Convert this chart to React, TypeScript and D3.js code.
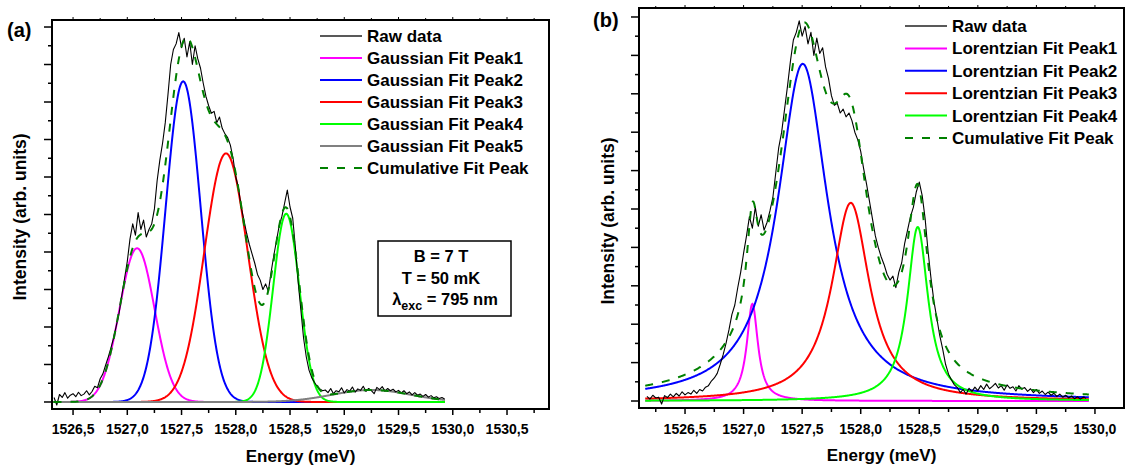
import React from 'react';
import * as d3 from 'd3';

const FONT = "'Liberation Sans', Arial, Helvetica, sans-serif";

// ---------- Panel (a): Gaussian fits ----------
const rawStartA = 1526.325;
const rawStepA = 0.025;
const rawA = [
  0.12, -0.08, 0.2, 0.12, 0.25, 0.1, 0.18, 0.22, 0.14, 0.26, 0.17, 0.21, 0.3, 0.19,
  0.28, 0.42, 0.38, 0.62, 0.75, 0.98, 1.2, 1.45, 1.72, 2.05, 2.38, 2.85, 3.3,
  3.75, 4.35, 4.75, 4.45, 5.05, 4.6, 4.85, 4.4, 4.6, 4.75, 5.15, 5.9, 6.45, 6.9, 7.45, 8.2, 9.0,
  9.4, 9.55, 9.85, 9.45, 9.7, 9.2, 9.6, 9.0, 9.5, 9.15, 8.9, 8.5, 8.15, 7.9, 7.7, 7.75,
  7.45, 7.6, 7.3, 7.15, 7.05, 6.85, 6.5,
  6.0, 5.7, 5.2, 4.85, 4.5, 4.2, 3.95, 3.7, 3.4, 3.25, 3.0, 3.15, 2.95, 3.45, 3.9, 4.3,
  4.7, 4.95, 5.3, 5.65, 5.2, 4.9, 4.1, 3.2, 2.45, 1.7, 1.2, 0.85, 0.65, 0.52, 0.42, 0.35, 0.3,
  0.32, 0.25, 0.36, 0.22, 0.3, 0.27, 0.38, 0.24, 0.33, 0.29, 0.4, 0.26, 0.35, 0.31, 0.42,
  0.28, 0.36, 0.3, 0.22, 0.39, 0.33, 0.41, 0.29, 0.36, 0.3, 0.34, 0.27, 0.31, 0.24, 0.3,
  0.22, 0.27, 0.19, 0.25, 0.18, 0.21, 0.15, 0.2, 0.13, 0.17, 0.11, 0.14, 0.09, 0.12, 0.08,
];
const gaussCenter = [1527.09, 1527.515, 1527.91, 1528.465, 1529.25];
const gaussFwhm = [0.38, 0.38, 0.47, 0.285, 0.85];
const gaussAmp = [4.1, 8.55, 6.63, 5.02, 0.32];
const gaussLabels = [
  'Gaussian Fit Peak1',
  'Gaussian Fit Peak2',
  'Gaussian Fit Peak3',
  'Gaussian Fit Peak4',
  'Gaussian Fit Peak5',
];
const fitRangeA = [1526.32, 1529.93];
const xTickLabelsA = ['1526,5', '1527,0', '1527,5', '1528,0', '1528,5', '1529,0', '1529,5', '1530,0', '1530,5'];

// ---------- Panel (b): Lorentzian fits ----------
const rawStartB = 1526.175;
const rawStepB = 0.025;
const rawB = [
  0.12, 0.05, 0.15, 0.08, 0.1, -0.08, 0.14, 0.09, 0.18, 0.11, 0.2, 0.13, 0.24, 0.16, 0.22,
  0.18, 0.28, 0.2, 0.3, 0.26,
  0.36, 0.4, 0.52, 0.6, 0.72, 0.95, 1.2, 1.5, 1.85, 2.25, 2.5, 2.95, 3.35,
  3.85, 4.3, 4.8, 4.5, 5.05, 4.55, 4.85, 4.45, 4.65, 4.95, 5.3, 5.95, 6.6, 7.0, 7.6, 8.2,
  8.85, 9.4, 9.6, 9.9, 9.5, 9.75, 9.3, 9.6, 9.0, 9.45, 9.05, 9.2, 8.7, 8.4, 7.95, 7.7,
  7.75, 7.5, 7.6, 7.4, 7.5, 7.3, 7.0, 6.8,
  6.5, 6.05, 5.65, 5.2, 4.75, 4.3, 4.0, 3.75, 3.55, 3.3, 3.15, 3.25, 2.95, 3.35, 3.6, 4.1,
  4.45, 4.8, 5.05, 5.45, 5.7, 5.35, 4.75, 3.9, 3.2, 2.6, 2.15, 1.7, 1.35, 0.95, 0.7, 0.55, 0.42,
  0.35, 0.22, 0.3, 0.18, 0.33, 0.25, 0.36, 0.27, 0.4, 0.3, 0.44, 0.32, 0.38, 0.46, 0.34,
  0.4, 0.28, 0.42, 0.33, 0.37, 0.26, 0.4, 0.31, 0.35, 0.25, 0.32, 0.22, 0.3, 0.2, 0.26,
  0.17, 0.23, 0.15, 0.2, 0.12, 0.18, 0.1, 0.15, 0.08, 0.13, 0.06, 0.11, 0.05, 0.1, 0.07,
];
const lorCenter = [1527.075, 1527.505, 1527.915, 1528.487];
const lorFwhm = [0.115, 0.52, 0.39, 0.215];
const lorAmp = [2.53, 8.78, 5.16, 4.53];
const lorLabels = [
  'Lorentzian Fit Peak1',
  'Lorentzian Fit Peak2',
  'Lorentzian Fit Peak3',
  'Lorentzian Fit Peak4',
];
const fitRangeB = [1526.16, 1529.95];
const xTickLabelsB = ['1526,5', '1527,0', '1527,5', '1528,0', '1528,5', '1529,0', '1529,5', '1530,0'];

const peakColors = ['#ff00ff', '#0000ff', '#ff0000', '#00ff00', '#808080'];
const yMajor = [0, 1, 2, 3, 4, 5, 6, 7, 8, 9, 10];
const rawLabel = 'Raw data';
const cumLabel = 'Cumulative Fit Peak';
const infoLines = ['B = 7 T', 'T = 50 mK'];

const gaussian = (c: number, fwhm: number, a: number) => {
  const s = fwhm / 2.35482;
  return (e: number) => a * Math.exp(-((e - c) ** 2) / (2 * s * s));
};
const lorentzian = (c: number, fwhm: number, a: number) => {
  const g = fwhm / 2;
  return (e: number) => a / (1 + ((e - c) / g) ** 2);
};

type PanelProps = {
  id: string;
  left: number; right: number; top: number; bottom: number;
  xDomain: number[]; yDomain: number[];
  tickLabels: string[];
  raw: number[]; rawStart: number; rawStep: number;
  peaks: ((e: number) => number)[];
  labels: string[];
  fitRange: number[];
  legendX: number; legendY: number; legendDy: number;
  tickLabelY: number; xTitleY: number; yTitleX: number; yTitleY: number;
  tag: string; tagX: number; tagY: number;
  children?: React.ReactNode;
};

function Panel(p: PanelProps) {
  const xs = d3.scaleLinear().domain(p.xDomain).range([p.left, p.right]);
  const ys = d3.scaleLinear().domain(p.yDomain).range([p.bottom, p.top]);
  const line = d3.line<[number, number]>().x((d) => xs(d[0])).y((d) => ys(d[1]));
  const grid = d3.range(p.fitRange[0], p.fitRange[1] + 1e-9, 0.004);
  const peakPaths = p.peaks.map((f) => line(grid.map((e) => [e, f(e)] as [number, number])) || '');
  const cumPath = line(grid.map((e) => [e, d3.sum(p.peaks, (f) => f(e))] as [number, number])) || '';
  const rawPath = line(p.raw.map((v, i) => [p.rawStart + i * p.rawStep, v] as [number, number])) || '';
  const majorX = p.tickLabels.map((s) => +s.replace(',', '.'));
  const minorX = d3
    .range(Math.ceil(p.xDomain[0] * 4) / 4, p.xDomain[1], 0.25)
    .filter((v) => !majorX.some((m) => Math.abs(m - v) < 1e-6));
  const minorY = d3.range(0.5, 10, 1);
  const clipId = 'clip-' + p.id;
  const cx = (p.left + p.right) / 2;
  const cy = (p.top + p.bottom) / 2;
  const legendItems = [
    { label: rawLabel, color: '#222', dash: undefined as string | undefined, w: 1.5 },
    ...p.labels.map((l, i) => ({ label: l, color: peakColors[i], dash: undefined as string | undefined, w: 2 })),
    { label: cumLabel, color: '#008000', dash: '8,9', w: 2 },
  ];
  return (
    <g>
      <defs>
        <clipPath id={clipId}>
          <rect x={p.left} y={p.top} width={p.right - p.left} height={p.bottom - p.top} />
        </clipPath>
      </defs>
      <g clipPath={`url(#${clipId})`} fill="none">
        {peakPaths.map((d, i) => (
          <path key={i} d={d} stroke={peakColors[i]} strokeWidth={2} />
        ))}
        <path d={rawPath} stroke="#000" strokeWidth={1.1} strokeLinejoin="round" />
        <path d={cumPath} stroke="#008000" strokeWidth={2} strokeDasharray="8,9" />
      </g>
      {/* frame */}
      <rect x={p.left} y={p.top} width={p.right - p.left} height={p.bottom - p.top} fill="none" stroke="#000" strokeWidth={2} />
      {/* bottom & top ticks */}
      {majorX.map((v) => (
        <g key={'M' + v}>
          <line x1={xs(v)} x2={xs(v)} y1={p.bottom} y2={p.bottom + 6} stroke="#000" strokeWidth={1.5} />
          <line x1={xs(v)} x2={xs(v)} y1={p.top} y2={p.top - 3} stroke="#000" strokeWidth={1} />
        </g>
      ))}
      {minorX.map((v) => (
        <g key={'m' + v}>
          <line x1={xs(v)} x2={xs(v)} y1={p.bottom} y2={p.bottom + 4} stroke="#000" strokeWidth={1.5} />
          <line x1={xs(v)} x2={xs(v)} y1={p.top} y2={p.top - 2} stroke="#000" strokeWidth={1} />
        </g>
      ))}
      {p.tickLabels.map((s, i) => (
        <text key={'t' + s} x={xs(majorX[i])} y={p.tickLabelY} textAnchor="middle" fontFamily={FONT} fontWeight="bold" fontSize={14}>
          {s}
        </text>
      ))}
      {/* left ticks */}
      {yMajor.map((v) => (
        <line key={'y' + v} x1={p.left} x2={p.left - 8} y1={ys(v)} y2={ys(v)} stroke="#000" strokeWidth={1.5} />
      ))}
      {minorY.map((v) => (
        <line key={'ym' + v} x1={p.left} x2={p.left - 4} y1={ys(v)} y2={ys(v)} stroke="#000" strokeWidth={1.5} />
      ))}
      <text x={cx} y={p.xTitleY} textAnchor="middle" fontFamily={FONT} fontWeight="bold" fontSize={17}>
        Energy (meV)
      </text>
      <text
        transform={`translate(${p.yTitleX},${p.yTitleY}) rotate(-90)`}
        textAnchor="middle"
        fontFamily={FONT}
        fontWeight="bold"
        fontSize={17.5}
      >
        Intensity (arb. units)
      </text>
      <text x={p.tagX} y={p.tagY} fontFamily={FONT} fontWeight="bold" fontSize={20}>
        {p.tag}
      </text>
      {/* legend */}
      {legendItems.map((it, i) => {
        const y = p.legendY + i * p.legendDy;
        return (
          <g key={'lg' + i}>
            <line x1={p.legendX} x2={p.legendX + 42} y1={y} y2={y} stroke={it.color} strokeWidth={it.w} strokeDasharray={it.dash} />
            <text x={p.legendX + 47} y={y + 6} fontFamily={FONT} fontWeight="bold" fontSize={17}>
              {it.label}
            </text>
          </g>
        );
      })}
      {p.children}
      {void cy}
    </g>
  );
}

export default function App() {
  const peaksA = gaussCenter.map((c, i) => gaussian(c, gaussFwhm[i], gaussAmp[i]));
  const peaksB = lorCenter.map((c, i) => lorentzian(c, lorFwhm[i], lorAmp[i]));
  return (
    <svg width={1126} height={468} style={{ position: 'absolute', left: 0, top: 0, background: '#fff' }}>
      <rect width={1126} height={468} fill="#fff" />
      <Panel
        id="a"
        left={52} right={549} top={20} bottom={409}
        xDomain={[1526.306, 1530.887]} yDomain={[-0.187, 10.187]}
        tickLabels={xTickLabelsA}
        raw={rawA} rawStart={rawStartA} rawStep={rawStepA}
        peaks={peaksA} labels={gaussLabels} fitRange={fitRangeA}
        legendX={320} legendY={36} legendDy={22}
        tickLabelY={434} xTitleY={462} yTitleX={26} yTitleY={217}
        tag="(a)" tagX={7} tagY={37}
      >
        <g>
          <rect x={378} y={241} width={133} height={75} fill="#fff" stroke="#000" strokeWidth={1.5} />
          <text x={441} y={262} textAnchor="middle" fontFamily={FONT} fontWeight="bold" fontSize={16.5}>{infoLines[0]}</text>
          <text x={441} y={283.5} textAnchor="middle" fontFamily={FONT} fontWeight="bold" fontSize={16.5}>{infoLines[1]}</text>
          <text x={445} y={304.5} textAnchor="middle" fontFamily={FONT} fontWeight="bold" fontSize={16.5}>
            λ<tspan fontSize={12.5} dy={5}>exc</tspan><tspan dy={-5}> = 795 nm</tspan>
          </text>
        </g>
      </Panel>
      <Panel
        id="b"
        left={639} right={1124} top={8} bottom={408}
        xDomain={[1526.107, 1530.248]} yDomain={[-0.182, 10.234]}
        tickLabels={xTickLabelsB}
        raw={rawB} rawStart={rawStartB} rawStep={rawStepB}
        peaks={peaksB} labels={lorLabels} fitRange={fitRangeB}
        legendX={905} legendY={26} legendDy={22.4}
        tickLabelY={433.5} xTitleY={461} yTitleX={614} yTitleY={221}
        tag="(b)" tagX={593} tagY={27}
      />
    </svg>
  );
}
